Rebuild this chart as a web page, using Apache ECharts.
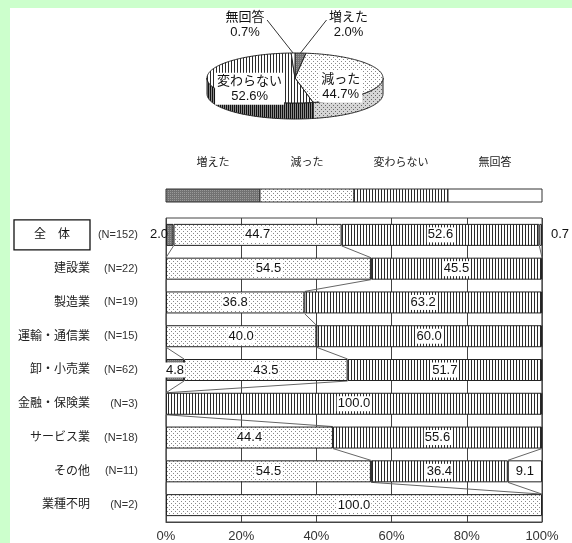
<!DOCTYPE html>
<html>
<head>
<meta charset="utf-8">
<script src="https://cdn.jsdelivr.net/npm/echarts@6/dist/echarts.min.js"></script>
<style>
  html, body { margin: 0; padding: 0; background: #fff; }
  #band-top { position: absolute; left: 0; top: 0; width: 572px; height: 8px; background: #ccffcc; }
  #band-left { position: absolute; left: 0; top: 0; width: 10px; height: 543px; background: #ccffcc; }
  #chart { position: absolute; left: 0; top: 0; width: 572px; height: 543px; }
</style>
</head>
<body>
<div id="band-top"></div>
<div id="band-left"></div>
<div id="chart"></div>
<script>
// 業種別の回答 (%)
var categories = ['全　体', '建設業', '製造業', '運輸・通信業', '卸・小売業', '金融・保険業', 'サービス業', 'その他', '業種不明'];
var sampleN = [152, 22, 19, 15, 62, 3, 18, 11, 2];
var seriesNames = ['増えた', '減った', '変わらない', '無回答'];
var increased = [2.0, 0, 0, 0, 4.8, 0, 0, 0, 0];
var decreased = [44.7, 54.5, 36.8, 40.0, 43.5, 0, 44.4, 54.5, 100.0];
var unchanged = [52.6, 45.5, 63.2, 60.0, 51.7, 100.0, 55.6, 36.4, 0];
var noAnswer = [0.7, 0, 0, 0, 0, 0, 0, 9.1, 0];
// 全体の円グラフ
var pieValues = [2.0, 44.7, 52.6, 0.7];

var FONT = '"Liberation Sans", "Noto Sans CJK JP", sans-serif';
var BAR_W = 22;
var PIE = { cx: 295, cy: 78, rx: 88, ry: 25, depth: 16 };

function makePattern(w, h, bg, draw) {
  var c = document.createElement('canvas');
  c.width = w; c.height = h;
  var ctx = c.getContext('2d');
  ctx.fillStyle = bg;
  ctx.fillRect(0, 0, w, h);
  draw(ctx);
  return { image: c, repeat: 'repeat' };
}

var fills = [
  makePattern(2, 2, '#727272', function (ctx) { ctx.fillStyle = '#999'; ctx.fillRect(0, 0, 1, 1); }),
  makePattern(4, 4, '#fff', function (ctx) { ctx.fillStyle = '#888'; ctx.fillRect(1, 1, 1, 1); ctx.fillRect(3, 3, 1, 1); }),
  makePattern(3, 1, '#fff', function (ctx) { ctx.fillStyle = '#2a2a2a'; ctx.fillRect(0, 0, 1, 1); }),
  '#ffffff'
];
var wallFills = [
  '#4a4a4a',
  makePattern(4, 4, '#d6d6d6', function (ctx) { ctx.fillStyle = '#666'; ctx.fillRect(1, 1, 1, 1); ctx.fillRect(3, 3, 1, 1); }),
  makePattern(2, 1, '#8a8a8a', function (ctx) { ctx.fillStyle = '#111'; ctx.fillRect(0, 0, 1, 1); }),
  '#d0d0d0'
];

var barData = [increased, decreased, unchanged, noAnswer];

function cumAt(row) {
  var a = increased[row];
  var b = a + decreased[row];
  var c = b + unchanged[row];
  return [a, b, c];
}

var myChart = echarts.init(document.getElementById('chart'));

var barSeries = barData.map(function (arr, s) {
  return {
    name: seriesNames[s],
    type: 'bar',
    stack: 'all',
    barWidth: BAR_W,
    z: 3,
    itemStyle: { color: fills[s], borderColor: '#222', borderWidth: 1 },
    label: {
      show: true,
      position: 'inside',
      formatter: function (p) { return p.value.toFixed(1); },
      backgroundColor: '#fff',
      padding: [1, 1],
      color: '#111',
      fontSize: 13,
      fontFamily: FONT
    },
    data: arr.map(function (v) {
      if (v === 0) return { value: 0, label: { show: false }, itemStyle: { borderWidth: 0 } };
      if (v < 3) return { value: v, label: { position: s === 0 ? 'left' : 'right', distance: s === 0 ? -3 : 8, backgroundColor: 'transparent' } };
      return v;
    })
  };
});

// 区分線 (隣り合う棒の境界を結ぶ線)
var seriesLines = {
  type: 'custom',
  silent: true,
  z: 2,
  encode: { x: 0, y: 1 },
  data: categories.slice(1).map(function (c, i) { return [0, i]; }),
  renderItem: function (params, api) {
    var i = params.dataIndex;
    var cA = cumAt(i), cB = cumAt(i + 1);
    var yA = api.coord([0, i])[1] + BAR_W / 2;
    var yB = api.coord([0, i + 1])[1] - BAR_W / 2;
    return {
      type: 'group',
      children: [0, 1, 2].map(function (k) {
        return {
          type: 'line',
          shape: { x1: api.coord([cA[k], i])[0], y1: yA, x2: api.coord([cB[k], i + 1])[0], y2: yB },
          style: { stroke: '#666', lineWidth: 1 }
        };
      })
    };
  }
};

function rim(t, dy) {
  return [PIE.cx + PIE.rx * Math.sin(t), PIE.cy - PIE.ry * Math.cos(t) + (dy || 0)];
}
function arc(a, b, dy) {
  var pts = [];
  var n = Math.max(2, Math.ceil((b - a) / 0.02));
  for (var k = 0; k <= n; k++) pts.push(rim(a + (b - a) * k / n, dy));
  return pts;
}

// 立体風の円グラフ
var pieSeries = {
  type: 'custom',
  coordinateSystem: 'none',
  silent: true,
  data: pieValues,
  renderItem: function (params, api) {
    var i = params.dataIndex;
    var total = pieValues.reduce(function (a, b) { return a + b; }, 0);
    var before = pieValues.slice(0, i).reduce(function (a, b) { return a + b; }, 0);
    var t0 = before / total * Math.PI * 2;
    var t1 = (before + pieValues[i]) / total * Math.PI * 2;
    var children = [{
      type: 'polygon',
      shape: { points: [[PIE.cx, PIE.cy]].concat(arc(t0, t1, 0)) },
      style: { fill: fills[i], stroke: '#222', lineWidth: 1 },
      z2: 10
    }];
    var a = Math.max(t0, Math.PI / 2), b = Math.min(t1, Math.PI * 1.5);
    if (a < b) {
      children.push({
        type: 'polygon',
        shape: { points: arc(a, b, 0).concat(arc(a, b, PIE.depth).reverse()) },
        style: { fill: wallFills[i], stroke: '#222', lineWidth: 1 },
        z2: 5
      });
    }
    var mid = (t0 + t1) / 2;
    var txt = seriesNames[i] + '\n' + pieValues[i].toFixed(1) + '%';
    if (pieValues[i] >= 5) {
      children.push({
        type: 'text',
        x: PIE.cx + PIE.rx * 0.52 * Math.sin(mid),
        y: PIE.cy - PIE.ry * 0.52 * Math.cos(mid) + 9,
        style: { text: txt, align: 'center', verticalAlign: 'middle', fontSize: 13, lineHeight: 15, fontFamily: FONT, fill: '#111', backgroundColor: '#fff', padding: [1, 2] },
        z2: 20
      });
    } else {
      var anc = rim(mid, 0);
      var side = Math.sin(mid) >= 0 ? 1 : -1;
      var lx = anc[0] + side * 48;
      children.push({
        type: 'line',
        shape: { x1: anc[0], y1: anc[1], x2: lx - side * 22, y2: 20 },
        style: { stroke: '#333', lineWidth: 1 },
        z2: 15
      });
      children.push({
        type: 'text',
        x: lx, y: 25,
        style: { text: txt, align: 'center', verticalAlign: 'middle', fontSize: 13, lineHeight: 15, fontFamily: FONT, fill: '#111' },
        z2: 20
      });
    }
    return { type: 'group', children: children };
  }
};

// 凡例 (上に文字、下に模様の箱)
var legendW = (572 - 166 - 30) / seriesNames.length;
var legendGraphics = [];
seriesNames.forEach(function (name, s) {
  legendGraphics.push({
    type: 'rect',
    shape: { x: 166 + s * legendW, y: 189, width: legendW, height: 13 },
    style: { fill: fills[s], stroke: '#333', lineWidth: 1 }
  });
  legendGraphics.push({
    type: 'text',
    x: 166 + (s + 0.5) * legendW, y: 163,
    style: { text: name, align: 'center', verticalAlign: 'middle', fontSize: 11, fontFamily: FONT, fill: '#222' }
  });
});

var option = {
  animation: false,
  backgroundColor: 'transparent',
  grid: { left: 166, right: 30, top: 218, bottom: 21, show: true, borderColor: '#444', borderWidth: 1 },
  xAxis: {
    type: 'value',
    min: 0,
    max: 100,
    interval: 20,
    axisLine: { show: true, lineStyle: { color: '#444' } },
    axisTick: { show: false },
    splitLine: { show: true, lineStyle: { color: '#444', width: 1 } },
    axisLabel: { formatter: '{value}%', fontSize: 13, color: '#333', fontFamily: FONT, margin: 8 }
  },
  yAxis: {
    type: 'category',
    inverse: true,
    data: categories,
    axisLine: { show: false },
    axisTick: { show: false },
    axisLabel: {
      margin: 28,
      formatter: function (value, index) {
        var head = index === 0 ? '{box|' + value + '}' : '{nm|' + value + '}';
        return head + '{n|(N=' + sampleN[index] + ')}';
      },
      rich: {
        nm: { width: 78, align: 'right', fontSize: 12, color: '#222', fontFamily: FONT },
        box: { width: 72, align: 'center', fontSize: 12, color: '#111', fontFamily: FONT, borderColor: '#111', borderWidth: 1.3, padding: [9, 2] },
        n: { width: 48, align: 'right', fontSize: 11, color: '#333', fontFamily: FONT }
      }
    }
  },
  graphic: legendGraphics,
  series: barSeries.concat([seriesLines, pieSeries])
};

myChart.setOption(option);
</script>
</body>
</html>
